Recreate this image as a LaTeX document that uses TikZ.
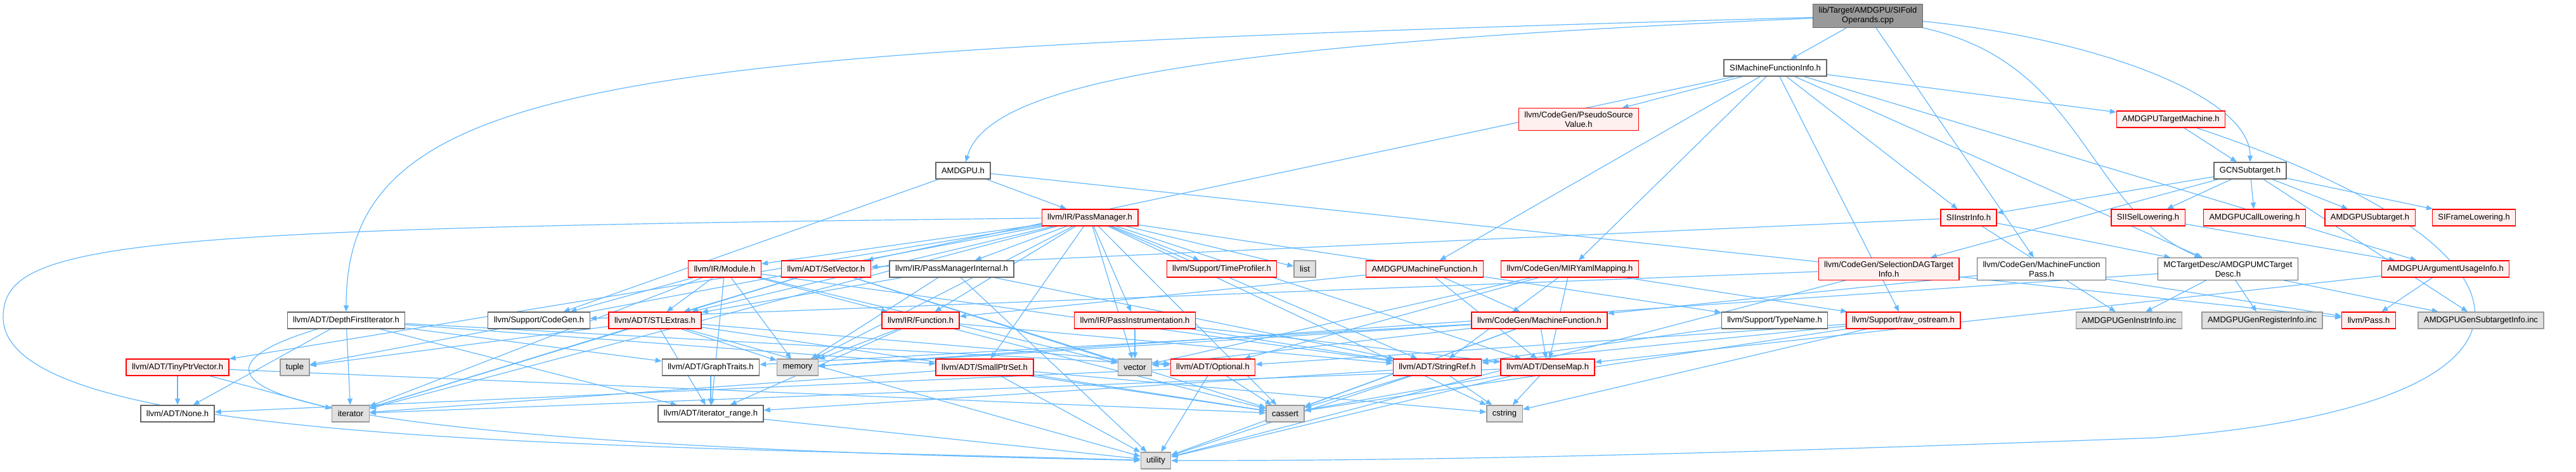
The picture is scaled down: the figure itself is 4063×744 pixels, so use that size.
\documentclass[tikz,border=0pt]{standalone}
\usepackage{fontspec}
\setmainfont{Liberation Sans}
\usepackage{tikz}
\usetikzlibrary{arrows.meta,backgrounds}
\definecolor{edgeblue}{HTML}{63B8FF}
\definecolor{redline}{HTML}{FF0000}
\definecolor{redfill}{HTML}{FFF0F0}
\definecolor{greyline}{HTML}{999999}
\definecolor{greyfill}{HTML}{E0E0E0}
\definecolor{darkline}{HTML}{666666}
\definecolor{rootfill}{HTML}{999999}

\begin{document}
\begin{tikzpicture}[x=1pt,y=-1pt,
  filebox/.style={draw,line width=1.3pt,font=\fontsize{13}{15}\selectfont,inner xsep=9pt,inner ysep=5pt,minimum height=26pt,align=center},
  redbox/.style={filebox,draw=redline,fill=redfill},
  whitebox/.style={filebox,draw=darkline,fill=white},
  greybox/.style={filebox,draw=greyline,fill=greyfill},
  rootbox/.style={filebox,draw=darkline,fill=rootfill},
  dep/.style={edgeblue,line width=1.2pt,-{Triangle[length=10pt,width=8pt]}}]
\useasboundingbox (0,0) rectangle (4063,744);

\node[rootbox] (root) at (2946,25) {lib/Target/AMDGPU/SIFold\\Operands.cpp};
\node[whitebox] (simfi) at (2800,107) {SIMachineFunctionInfo.h};
\node[redbox] (psv) at (2490,188) {llvm/CodeGen/PseudoSource\\Value.h};
\node[redbox] (amdtm) at (3424,188) {AMDGPUTargetMachine.h};
\node[whitebox] (amdgpu) at (1519,269) {AMDGPU.h};
\node[whitebox] (gcn) at (3549,269) {GCNSubtarget.h};

\node[redbox] (pm) at (1719,343) {llvm/IR/PassManager.h};
\node[redbox] (siinstr) at (3105,343) {SIInstrInfo.h};
\node[redbox] (siisel) at (3388,343) {SIISelLowering.h};
\node[redbox] (callow) at (3556,343) {AMDGPUCallLowering.h};
\node[redbox] (amdsub) at (3738,343) {AMDGPUSubtarget.h};
\node[redbox] (sifl) at (3902,343) {SIFrameLowering.h};

\node[redbox] (module) at (1143,424) {llvm/IR/Module.h};
\node[redbox] (setvec) at (1303,424) {llvm/ADT/SetVector.h};
\node[whitebox] (pmint) at (1501,424) {llvm/IR/PassManagerInternal.h};
\node[redbox] (timeprof) at (1927,424) {llvm/Support/TimeProfiler.h};
\node[greybox] (list) at (2058,424) {list};
\node[redbox] (amdmf) at (2247,424) {AMDGPUMachineFunction.h};
\node[redbox] (miryaml) at (2476,424) {llvm/CodeGen/MIRYamlMapping.h};
\node[redbox] (seldag) at (2979,424) {llvm/CodeGen/SelectionDAGTarget\\Info.h};
\node[whitebox] (mfpass) at (3220,424) {llvm/CodeGen/MachineFunction\\Pass.h};
\node[whitebox] (mcdesc) at (3514,424) {MCTargetDesc/AMDGPUMCTarget\\Desc.h};
\node[redbox] (argusage) at (3857,424) {AMDGPUArgumentUsageInfo.h};

\node[whitebox] (dfi) at (546,505) {llvm/ADT/DepthFirstIterator.h};
\node[whitebox] (cgen) at (850,505) {llvm/Support/CodeGen.h};
\node[redbox] (stlext) at (1033,505) {llvm/ADT/STLExtras.h};
\node[redbox] (func) at (1452,505) {llvm/IR/Function.h};
\node[redbox] (passinst) at (1790,505) {llvm/IR/PassInstrumentation.h};
\node[redbox] (mfunc) at (2428,505) {llvm/CodeGen/MachineFunction.h};
\node[whitebox] (typename) at (2799,505) {llvm/Support/TypeName.h};
\node[redbox] (rawos) at (3002,505) {llvm/Support/raw\_ostream.h};
\node[greybox] (geninstr) at (3358,505) {AMDGPUGenInstrInfo.inc};
\node[greybox] (genreg) at (3568,505) {AMDGPUGenRegisterInfo.inc};
\node[redbox] (pass) at (3736,505) {llvm/Pass.h};
\node[greybox] (gensub) at (3913,505) {AMDGPUGenSubtargetInfo.inc};

\node[redbox] (tinyptr) at (280,579) {llvm/ADT/TinyPtrVector.h};
\node[greybox] (tuple) at (465,579) {tuple};
\node[whitebox] (graph) at (1121,579) {llvm/ADT/GraphTraits.h};
\node[greybox] (memory) at (1258,579) {memory};
\node[redbox] (smallptr) at (1553,579) {llvm/ADT/SmallPtrSet.h};
\node[greybox] (vector) at (1790,579) {vector};
\node[redbox] (optional) at (1913,579) {llvm/ADT/Optional.h};
\node[redbox] (strref) at (2267,579) {llvm/ADT/StringRef.h};
\node[redbox] (densemap) at (2441,579) {llvm/ADT/DenseMap.h};

\node[whitebox] (none) at (280,652) {llvm/ADT/None.h};
\node[greybox] (iterator) at (553,652) {iterator};
\node[whitebox] (itrange) at (1121,652) {llvm/ADT/iterator\_range.h};
\node[greybox] (cassert) at (2027,652) {cassert};
\node[greybox] (cstring) at (2373,652) {cstring};
\node[greybox] (utility) at (1823,726) {utility};

\begin{scope}[on background layer]
\foreach \a/\b in {root/simfi,root/mfpass,
  simfi/psv,simfi/amdtm,simfi/siinstr,simfi/amdmf,simfi/miryaml,simfi/rawos,simfi/argusage,simfi/mcdesc,simfi/setvec,
  amdtm/gcn,amdgpu/pm,amdgpu/cgen,amdgpu/pass,
  gcn/siinstr,gcn/siisel,gcn/callow,gcn/amdsub,gcn/sifl,gcn/seldag,gcn/gensub,
  siinstr/mcdesc,siinstr/geninstr,siinstr/setvec,siisel/argusage,
  pm/module,pm/pmint,pm/timeprof,pm/list,pm/func,pm/passinst,pm/stlext,pm/tinyptr,pm/tuple,pm/smallptr,
  pm/strref,pm/densemap,pm/typename,pm/cassert,pm/cstring,pm/iterator,pm/memory,pm/vector,
  module/stlext,module/cgen,module/func,module/memory,module/vector,module/strref,module/itrange,module/iterator,
  setvec/stlext,setvec/cassert,setvec/iterator,setvec/vector,
  pmint/stlext,pmint/strref,pmint/memory,pmint/utility,
  amdmf/mfunc,amdmf/func,amdmf/densemap,
  miryaml/strref,miryaml/rawos,miryaml/vector,miryaml/optional,miryaml/densemap,
  seldag/cgen,seldag/utility,mfpass/mfunc,mfpass/pass,
  mcdesc/geninstr,mcdesc/genreg,mcdesc/gensub,mcdesc/memory,argusage/pass,argusage/densemap,
  dfi/none,dfi/iterator,dfi/itrange,dfi/graph,dfi/smallptr,dfi/optional,
  stlext/tuple,stlext/iterator,stlext/itrange,stlext/memory,stlext/cassert,stlext/utility,stlext/optional,
  func/memory,func/itrange,func/strref,func/cassert,
  passinst/vector,passinst/strref,passinst/densemap,
  mfunc/densemap,mfunc/graph,mfunc/cassert,mfunc/memory,mfunc/utility,mfunc/vector,
  typename/strref,rawos/strref,rawos/cassert,rawos/cstring,rawos/optional,
  tinyptr/none,tinyptr/iterator,tinyptr/cassert,graph/itrange,
  smallptr/cassert,smallptr/cstring,smallptr/iterator,smallptr/utility,
  optional/none,optional/cassert,optional/utility,
  strref/itrange,strref/cassert,strref/cstring,strref/utility,
  densemap/cassert,densemap/cstring,densemap/iterator,densemap/utility,itrange/utility}
  {\draw[dep] (\a) -- (\b);}
\draw[dep] (root) .. controls (1000,80) and (546,110) .. (dfi);
\draw[dep] (root) .. controls (1900,70) and (1560,130) .. (amdgpu);
\draw[dep] (root) .. controls (3300,60) and (3549,150) .. (gcn);
\draw[dep] (root) .. controls (3290,100) and (3290,330) .. (mcdesc);
\draw[dep] (amdtm) .. controls (4060,400) and (4060,640) .. (3400,690) .. controls (2600,720) and (2200,726) .. (utility);
\draw[dep] (pm) .. controls (200,360) and (5,380) .. (5,500) .. controls (5,700) and (900,700) .. (utility);
\draw[dep] (dfi) .. controls (230,600) and (400,700) .. (utility);
\end{scope}
\end{tikzpicture}
\end{document}
